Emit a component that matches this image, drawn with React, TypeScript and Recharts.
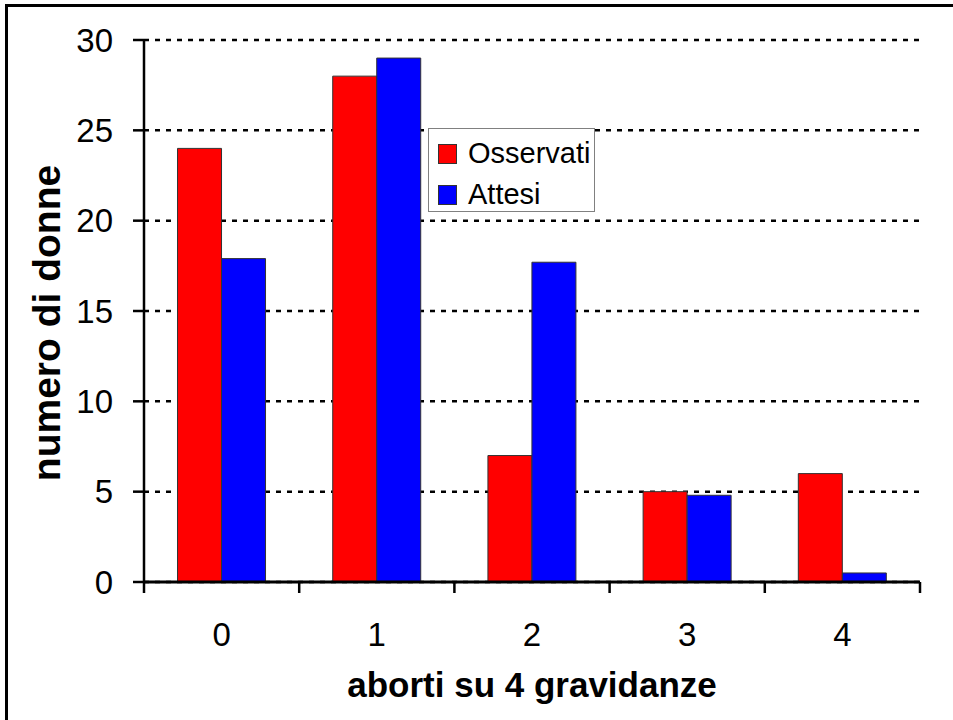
import { Bar, BarChart, CartesianGrid, Label, Legend, XAxis, YAxis } from "recharts"

const categories = ["0", "1", "2", "3", "4"]
const osservati = [24, 28, 7, 5, 6]
const attesi = [17.9, 29, 17.7, 4.8, 0.5]
const yTicks = [0, 5, 10, 15, 20, 25, 30]
const seriesNames = ["Osservati", "Attesi"]

const data = categories.map((name, i) => ({ name, osservati: osservati[i], attesi: attesi[i] }))

const font = '"Liberation Sans", Arial, sans-serif'

// category labels in the middle, tick marks on the band edges
function EdgeTick(props: any) {
  const { x, y, payload, index } = props
  const half = payload.offset ?? 0
  const last = index === categories.length - 1
  return (
    <g>
      <line x1={x - half} x2={x - half} y1={y} y2={y + 11} stroke="#000" strokeWidth={2.5} />
      {last && <line x1={x + half} x2={x + half} y1={y} y2={y + 11} stroke="#000" strokeWidth={2.5} />}
      <text x={x} y={y + 64} textAnchor="middle" fontSize={33} fontFamily={font} fill="#000">
        {payload.value}
      </text>
    </g>
  )
}

function LegendBox(props: any) {
  const items = [...(props.payload || [])].sort(
    (a: any, b: any) => seriesNames.indexOf(a.value) - seriesNames.indexOf(b.value)
  )
  return (
    <div
      style={{
        width: 165,
        height: 78,
        border: "1px solid #808080",
        background: "#fff",
        boxSizing: "content-box",
        paddingTop: 4,
      }}
    >
      {items.map((it: any) => (
        <div key={it.value} style={{ display: "flex", alignItems: "center", height: 41 }}>
          <div
            style={{
              width: 17,
              height: 18,
              marginLeft: 9,
              background: it.color,
              border: "1px solid #333",
            }}
          />
          <span style={{ marginLeft: 11, fontSize: 29, fontFamily: font, lineHeight: 1, color: "#000" }}>
            {it.value}
          </span>
        </div>
      ))}
    </div>
  )
}

export default function App() {
  return (
    <div style={{ position: "absolute", left: 0, top: 0, width: 953, height: 720, background: "#fff", overflow: "hidden" }}>
      <BarChart
        width={953}
        height={720}
        data={data}
        margin={{ top: 40, right: 33, left: 0, bottom: 78 }}
        barCategoryGap="21.6%"
        barGap={0}
      >
        <CartesianGrid vertical={false} stroke="#000" strokeWidth={2.5} strokeDasharray="5 6" />
        <XAxis
          dataKey="name"
          height={60}
          tickLine={false}
          tickSize={0}
          tickMargin={0}
          axisLine={{ stroke: "#000", strokeWidth: 3 }}
          tick={<EdgeTick />}
          interval={0}
        >
          <Label
            content={(p: any) => (
              <text
                x={p.viewBox.x + p.viewBox.width / 2}
                y={p.viewBox.y + 115}
                textAnchor="middle"
                fontSize={35}
                fontWeight="bold"
                fontFamily={font}
                fill="#000"
              >
                aborti su 4 gravidanze
              </text>
            )}
          />
        </XAxis>
        <YAxis
          width={144}
          domain={[0, 30]}
          ticks={yTicks}
          interval={0}
          tickSize={11}
          tickMargin={20}
          axisLine={{ stroke: "#000", strokeWidth: 2.5 }}
          tickLine={{ stroke: "#000", strokeWidth: 2.5 }}
          tick={{ fill: "#000", fontSize: 33, fontFamily: font }}
        >
          <Label
            content={(p: any) => {
              const cx = 46
              const cy = p.viewBox.y + p.viewBox.height / 2 + 12
              return (
                <text
                  x={cx}
                  y={cy}
                  transform={`rotate(-90 ${cx} ${cy})`}
                  textAnchor="middle"
                  dominantBaseline="central"
                  fontSize={39}
                  fontWeight="bold"
                  fontFamily={font}
                  fill="#000"
                >
                  numero di donne
                </text>
              )
            }}
          />
        </YAxis>
        <Legend
          layout="vertical"
          align="center"
          verticalAlign="middle"
          content={<LegendBox />}
          wrapperStyle={{ left: 428, top: 128, width: 168, height: 84, bottom: "auto" }}
        />
        <Bar dataKey="osservati" name="Osservati" fill="#ff0000" stroke="#333" strokeWidth={1} isAnimationActive={false} />
        <Bar dataKey="attesi" name="Attesi" fill="#0000ff" stroke="#333" strokeWidth={1} isAnimationActive={false} />
      </BarChart>
      <div
        style={{
          position: "absolute",
          left: 5,
          top: 4,
          width: 1000,
          height: 1000,
          borderLeft: "3px solid #000",
          borderTop: "3px solid #000",
          pointerEvents: "none",
        }}
      />
    </div>
  )
}
